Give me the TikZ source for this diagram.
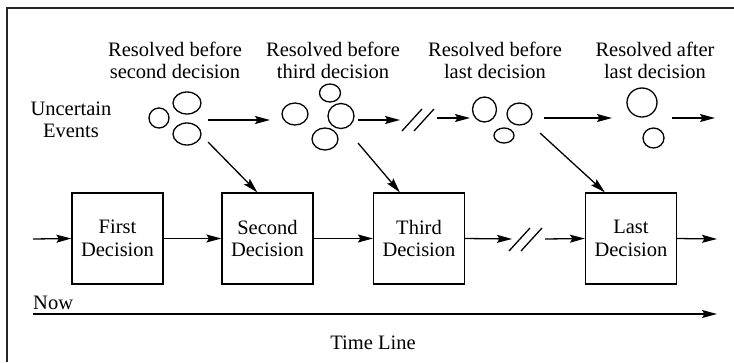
\documentclass[tikz,border=0pt]{standalone}
\usepackage{fontspec}
\setmainfont{Liberation Serif}
\usetikzlibrary{arrows.meta,shapes.geometric,calc}
\begin{document}
\begin{tikzpicture}[x=1pt,y=-1pt,
  every node/.style={font=\fontsize{20.5}{22.5}\selectfont, inner sep=0pt},
  label/.style={align=center},
  event/.style={draw, ellipse, line width=1.3pt, inner sep=0pt},
  decision/.style={draw, line width=1.2pt, minimum width=91pt, minimum height=91pt, align=center},
  flow/.style={line width=1.3pt, -{Stealth[length=15pt,width=8pt,inset=2.5pt]}},
  brk/.style={line width=1.3pt},
  frame/.style={line width=2pt, draw=black!85}]
\useasboundingbox (0,0) rectangle (734,362);

% outer frame (top and left edges)
\draw[frame] (7,362) -- (7,8) -- (734,8);

% headings above the groups of uncertain events
\node[label] (h1) at (175,60.5) {Resolved before\\second decision};
\node[label] (h2) at (333,60.5) {Resolved before\\third decision};
\node[label] (h3) at (495,60.5) {Resolved before\\last decision};
\node[label] (h4) at (655,60.5) {Resolved after\\last decision};
\node[label] (ue) at (71,120) {Uncertain\\Events};

% groups of uncertain events
\node[event, minimum width=20pt, minimum height=20pt] (g1a) at (159,118) {};
\node[event, minimum width=28pt, minimum height=22pt] (g1b) at (187,103) {};
\node[event, minimum width=28pt, minimum height=22pt] (g1c) at (187,134) {};

\node[event, minimum width=21pt, minimum height=18pt] (g2a) at (330,93) {};
\node[event, minimum width=26pt, minimum height=22pt] (g2b) at (295,114) {};
\node[event, minimum width=26pt, minimum height=25pt] (g2c) at (341,116) {};
\node[event, minimum width=26pt, minimum height=22pt] (g2d) at (325,139) {};

\node[event, minimum width=24pt, minimum height=25pt] (g3a) at (484.5,109.5) {};
\node[event, minimum width=25pt, minimum height=22pt] (g3b) at (519.5,114) {};
\node[event, minimum width=20pt, minimum height=15pt] (g3c) at (504,135.5) {};

\node[event, minimum width=30pt, minimum height=29pt] (g4a) at (642,102.5) {};
\node[event, minimum width=21pt, minimum height=20pt] (g4b) at (653.5,138) {};

% decision boxes
\node[decision] (b1) at (117.5,238.5) {First\\Decision};
\node[decision] (b2) at (267.5,238.5) {Second\\Decision};
\node[decision] (b3) at (419,238.5) {Third\\Decision};
\node[decision] (b4) at (631,238.5) {Last\\Decision};

% free ends of connectors
\coordinate (u1s) at (208,120);  \coordinate (u1e) at (270,120);
\coordinate (u2s) at (358,120);  \coordinate (u2e) at (400,120);
\coordinate (u3s) at (437,118);  \coordinate (u3e) at (470,118);
\coordinate (u4s) at (544,118);  \coordinate (u4e) at (612,118);
\coordinate (u5s) at (672,118);  \coordinate (u5e) at (715,118);
\coordinate (d1s) at (208,142);  \coordinate (d2s) at (358,143);  \coordinate (d3s) at (540,133);
\coordinate (in) at (33,239);
\coordinate (out) at (717,239);
\coordinate (gapL) at (512,239);
\coordinate (gapR) at (545,239);
\coordinate (t0) at (33,314);
\coordinate (t1) at (717,314);

% event flow along the top
\draw[flow] (u1s) -- (u1e);
\draw[flow] (u2s) -- (u2e);
\draw[brk] (402,131) -- (422,109);
\draw[brk] (414,131) -- (434,109);
\draw[flow] (u3s) -- (u3e);
\draw[flow] (u4s) -- (u4e);
\draw[flow] (u5s) -- (u5e);

% events feeding the decisions
\draw[flow] (d1s) -- ($(b2.north west)+(36,0)$);
\draw[flow] (d2s) -- ($(b3.north west)+(27,0)$);
\draw[flow] (d3s) -- ($(b4.north west)+(20,0)$);

% sequence of decisions
\draw[flow] (in) -- (b1.west);
\draw[flow] (b1.east) -- (b2.west);
\draw[flow] (b2.east) -- (b3.west);
\draw[flow] (b3.east) -- (gapL);
\draw[brk] (509,251) -- (530,228);
\draw[brk] (521,251) -- (542,228);
\draw[flow] (gapR) -- (b4.west);
\draw[flow] (b4.east) -- (out);

% time line
\node[anchor=base west] (now) at (33,309) {Now};
\draw[flow] (t0) -- (t1);
\node[anchor=base] (tl) at (373,349) {Time Line};
\end{tikzpicture}
\end{document}
